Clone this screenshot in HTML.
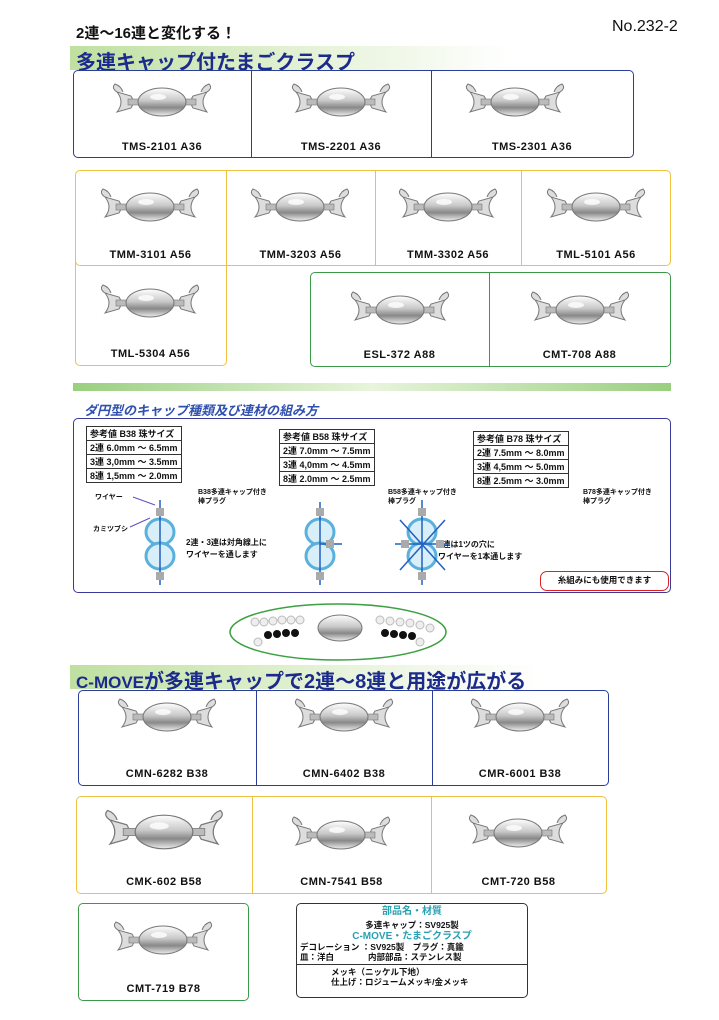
<!DOCTYPE html>
<html><head><meta charset="utf-8"><style>
*{margin:0;padding:0;box-sizing:border-box}
body{width:719px;height:1020px;background:#fff;position:relative;overflow:hidden;font-family:"Liberation Sans","Noto Sans CJK JP",sans-serif;color:#111}
.a{position:absolute}
.box{position:absolute;border-radius:5px}
.lbl{position:absolute;font-size:11px;font-weight:bold;letter-spacing:0.5px;text-align:center;white-space:nowrap}
.h{position:absolute;font-weight:bold;color:#1c2a8c;white-space:nowrap}
.bar{position:absolute;background:linear-gradient(90deg,#bfe0a0,#e8f4dc 60%,#fff)}
.vl{position:absolute;width:1px}
table.t{position:absolute;border-collapse:collapse;font-size:9px;font-weight:bold;background:#fff}
table.t td{border:1px solid #333;padding:0 3px;height:12px;white-space:nowrap}
</style></head><body>
<svg width="0" height="0" style="position:absolute">
<defs>
<linearGradient id="sg" x1="0" y1="0" x2="0" y2="1"><stop offset="0" stop-color="#fff"/><stop offset=".45" stop-color="#c8c8c8"/><stop offset=".7" stop-color="#888"/><stop offset="1" stop-color="#eee"/></linearGradient>
<g id="cl">
<path d="M-45,-10 q8,10 0,20 l14,-4 q4,-6 0,-12z M-45,-10 q-6,-4 -2,-8 q6,2 8,8" fill="#ddd" stroke="#777" stroke-width="1"/>
<path d="M45,-10 q-8,10 0,20 l-14,-4 q-4,-6 0,-12z M45,-10 q6,-4 2,-8 q-6,2 -8,8" fill="#ddd" stroke="#777" stroke-width="1"/>
<rect x="-34" y="-3" width="68" height="6" fill="#bbb" stroke="#777" stroke-width=".6"/>
<ellipse cx="0" cy="0" rx="24" ry="14" fill="url(#sg)" stroke="#777" stroke-width="1"/>
<ellipse cx="-4" cy="-5" rx="8" ry="3" fill="#fff" opacity=".8"/>
</g>
</defs></svg>

<div class="a" style="left:76px;top:22px;font-size:15px;font-weight:bold">2連～16連と変化する！</div>
<div class="a" style="left:612px;top:18px;font-size:16px">No.232-2</div>
<div class="bar" style="left:70px;top:46px;width:440px;height:24px"></div>
<div class="h" style="left:76px;top:46px;font-size:20px">多連キャップ付たまごクラスプ</div>

<div class="box" style="left:73px;top:70px;width:561px;height:88px;border:1.5px solid #2a3d9a"></div>
<div class="vl" style="left:251px;top:71px;height:86px;background:#2a3d9a"></div>
<div class="vl" style="left:431px;top:71px;height:86px;background:#2a3d9a"></div>
<div class="lbl" style="left:73px;top:141px;width:178px">TMS-2101 A36</div>
<div class="lbl" style="left:251px;top:141px;width:180px">TMS-2201 A36</div>
<div class="lbl" style="left:431px;top:141px;width:202px">TMS-2301 A36</div>

<div class="box" style="left:75px;top:170px;width:596px;height:96px;border:1.5px solid #f0c040"></div>
<div class="box" style="left:75px;top:262px;width:152px;height:104px;border:1.5px solid #f0c040;border-top:none;border-radius:0 0 5px 5px"></div>
<div class="vl" style="left:226px;top:171px;height:95px;background:#f0c040"></div>
<div class="vl" style="left:375px;top:171px;height:95px;background:#f0c040"></div>
<div class="vl" style="left:521px;top:171px;height:95px;background:#f0c040"></div>
<div class="lbl" style="left:75px;top:249px;width:151px">TMM-3101 A56</div>
<div class="lbl" style="left:226px;top:249px;width:149px">TMM-3203 A56</div>
<div class="lbl" style="left:375px;top:249px;width:146px">TMM-3302 A56</div>
<div class="lbl" style="left:521px;top:249px;width:150px">TML-5101 A56</div>
<div class="lbl" style="left:75px;top:348px;width:151px">TML-5304 A56</div>

<div class="box" style="left:310px;top:272px;width:361px;height:95px;border:1.5px solid #3a9a4a"></div>
<div class="vl" style="left:489px;top:273px;height:93px;background:#3a9a4a"></div>
<div class="lbl" style="left:310px;top:349px;width:179px">ESL-372 A88</div>
<div class="lbl" style="left:489px;top:349px;width:181px">CMT-708 A88</div>

<svg class="a" style="left:0;top:0" width="719" height="1020">
<use href="#cl" x="162" y="102"/><use href="#cl" x="341" y="102"/><use href="#cl" x="515" y="102"/>
<use href="#cl" x="150" y="207"/><use href="#cl" x="300" y="207"/><use href="#cl" x="448" y="207"/><use href="#cl" x="596" y="207"/>
<use href="#cl" x="150" y="303"/><use href="#cl" x="400" y="310"/><use href="#cl" x="580" y="310"/>
<use href="#cl" x="167" y="717"/><use href="#cl" x="344" y="717"/><use href="#cl" x="520" y="717"/>
<use href="#cl" x="164" y="832" transform="translate(164 832) scale(1.2) translate(-164 -832)"/><use href="#cl" x="341" y="835"/><use href="#cl" x="518" y="833"/>
<use href="#cl" x="163" y="940"/>
</svg>

<div class="bar" style="left:73px;top:383px;width:598px;height:8px;background:linear-gradient(90deg,#9acf80,#e8f4dc 50%,#9acf80)"></div>
<div class="h" style="left:84px;top:400px;font-size:13px;font-style:italic;color:#3050b0">ダ円型のキャップ種類及び連材の組み方</div>
<div class="box" style="left:73px;top:418px;width:598px;height:175px;border:1.5px solid #3a3a9a"></div>
<table class="t" style="left:86px;top:426px"><tr><td>参考値 B38 珠サイズ</td></tr><tr><td>2連 6.0mm ～ 6.5mm</td></tr><tr><td>3連 3,0mm ～ 3.5mm</td></tr><tr><td>8連 1,5mm ～ 2.0mm</td></tr></table>
<table class="t" style="left:279px;top:429px"><tr><td>参考値 B58 珠サイズ</td></tr><tr><td>2連 7.0mm ～ 7.5mm</td></tr><tr><td>3連 4,0mm ～ 4.5mm</td></tr><tr><td>8連 2.0mm ～ 2.5mm</td></tr></table>
<table class="t" style="left:473px;top:431px"><tr><td>参考値 B78 珠サイズ</td></tr><tr><td>2連 7.5mm ～ 8.0mm</td></tr><tr><td>3連 4,5mm ～ 5.0mm</td></tr><tr><td>8連 2.5mm ～ 3.0mm</td></tr></table>
<div class="a" style="left:198px;top:488px;font-size:7px;font-weight:bold;line-height:9px">B38多連キャップ付き<br>棒プラグ</div>
<div class="a" style="left:388px;top:488px;font-size:7px;font-weight:bold;line-height:9px">B58多連キャップ付き<br>棒プラグ</div>
<div class="a" style="left:583px;top:488px;font-size:7px;font-weight:bold;line-height:9px">B78多連キャップ付き<br>棒プラグ</div>
<div class="a" style="left:95px;top:492px;font-size:7px;font-weight:bold">ワイヤー</div>
<div class="a" style="left:93px;top:524px;font-size:7px;font-weight:bold">カミツブシ</div>
<div class="a" style="left:186px;top:537px;font-size:8px;font-weight:bold;line-height:12px">2連・3連は対角線上に<br>ワイヤーを通します</div>
<div class="a" style="left:438px;top:539px;font-size:8px;font-weight:bold;line-height:12px">8連は1ツの穴に<br>ワイヤーを1本通します</div>
<div class="a" style="left:540px;top:571px;width:129px;height:20px;border:1.5px solid #e02020;border-radius:7px;font-size:8.5px;font-weight:bold;text-align:center;line-height:17px">糸組みにも使用できます</div>
<svg class="a" style="left:0;top:0" width="719" height="1020">
<g fill="#d8eef8" stroke="#5ab0dc" stroke-width="3">
<ellipse cx="160" cy="532" rx="14" ry="13"/><ellipse cx="160" cy="556" rx="14" ry="13"/>
<ellipse cx="320" cy="532" rx="14" ry="13"/><ellipse cx="320" cy="556" rx="14" ry="13"/>
<ellipse cx="422" cy="532" rx="14" ry="13"/><ellipse cx="422" cy="556" rx="14" ry="13"/>
</g>
<g stroke="#2060c0" stroke-width="1.5"><line x1="160" y1="500" x2="160" y2="585"/><line x1="320" y1="502" x2="320" y2="585"/><line x1="422" y1="500" x2="422" y2="585"/><line x1="395" y1="544" x2="450" y2="544"/><line x1="400" y1="520" x2="445" y2="570"/><line x1="445" y1="520" x2="400" y2="570"/><line x1="320" y1="544" x2="342" y2="544"/></g>
<g fill="#aaa"><rect x="156" y="508" width="8" height="8"/><rect x="156" y="572" width="8" height="8"/><rect x="316" y="508" width="8" height="8"/><rect x="316" y="572" width="8" height="8"/><rect x="326" y="540" width="8" height="8"/><rect x="418" y="508" width="8" height="8"/><rect x="418" y="572" width="8" height="8"/><rect x="401" y="540" width="8" height="8"/><rect x="436" y="540" width="8" height="8"/></g>
<path d="M133 497 L155 505 M130 527 L150 518" stroke="#6050c0" fill="none"/>
<ellipse cx="338" cy="632" rx="108" ry="28" fill="#fff" stroke="#3aa040" stroke-width="1.5"/>
<g fill="#eee" stroke="#bbb"><circle cx="255" cy="622" r="4"/><circle cx="264" cy="622" r="4"/><circle cx="273" cy="621" r="4"/><circle cx="282" cy="620" r="4"/><circle cx="291" cy="620" r="4"/><circle cx="300" cy="620" r="4"/><circle cx="380" cy="620" r="4"/><circle cx="390" cy="621" r="4"/><circle cx="400" cy="622" r="4"/><circle cx="410" cy="623" r="4"/><circle cx="420" cy="625" r="4"/><circle cx="430" cy="628" r="4"/><circle cx="258" cy="642" r="4"/><circle cx="420" cy="642" r="4"/></g>
<g fill="#111"><circle cx="268" cy="635" r="4"/><circle cx="277" cy="634" r="4"/><circle cx="286" cy="633" r="4"/><circle cx="295" cy="633" r="4"/><circle cx="385" cy="633" r="4"/><circle cx="394" cy="634" r="4"/><circle cx="403" cy="635" r="4"/><circle cx="412" cy="636" r="4"/></g>
<ellipse cx="340" cy="628" rx="22" ry="13" fill="url(#sg)" stroke="#777"/>
</svg>

<div class="bar" style="left:70px;top:665px;width:470px;height:24px"></div>
<div class="h" style="left:76px;top:665px;font-size:20px"><span style="font-size:17px">C-MOVE</span>が多連キャップで2連～8連と用途が広がる</div>

<div class="box" style="left:78px;top:690px;width:531px;height:96px;border:1.5px solid #2a3d9a"></div>
<div class="vl" style="left:256px;top:691px;height:94px;background:#2a3d9a"></div>
<div class="vl" style="left:432px;top:691px;height:94px;background:#2a3d9a"></div>
<div class="lbl" style="left:78px;top:768px;width:178px">CMN-6282 B38</div>
<div class="lbl" style="left:256px;top:768px;width:176px">CMN-6402 B38</div>
<div class="lbl" style="left:432px;top:768px;width:176px">CMR-6001 B38</div>

<div class="box" style="left:76px;top:796px;width:531px;height:98px;border:1.5px solid #f0c040"></div>
<div class="vl" style="left:252px;top:797px;height:96px;background:#f0c040"></div>
<div class="vl" style="left:431px;top:797px;height:96px;background:#f0c040"></div>
<div class="lbl" style="left:76px;top:876px;width:176px">CMK-602 B58</div>
<div class="lbl" style="left:252px;top:876px;width:179px">CMN-7541 B58</div>
<div class="lbl" style="left:431px;top:876px;width:175px">CMT-720 B58</div>

<div class="box" style="left:78px;top:903px;width:171px;height:98px;border:1.5px solid #3a9a4a"></div>
<div class="lbl" style="left:78px;top:983px;width:171px">CMT-719 B78</div>

<div class="box" style="left:296px;top:903px;width:232px;height:95px;border:1.5px solid #333;font-size:8.5px;font-weight:bold;line-height:10px">
<div style="text-align:center;color:#2aa0b0;font-size:10px;margin-top:3px">部品名・材質</div>
<div style="text-align:center;margin-top:3px">多連キャップ：SV925製</div>
<div style="text-align:center;color:#2aa0b0;font-size:10px;margin-top:2px">C-MOVE・たまごクラスプ</div>
<div style="padding-left:3px">デコレーション ：SV925製　プラグ：真鍮</div>
<div style="padding-left:3px">皿：洋白　　　　内部部品：ステンレス製</div>
<div style="border-top:1px solid #333;margin-top:2px;padding-left:34px;padding-top:2px">メッキ（ニッケル下地）<br>仕上げ：ロジュームメッキ/金メッキ</div>
</div>
</body></html>
